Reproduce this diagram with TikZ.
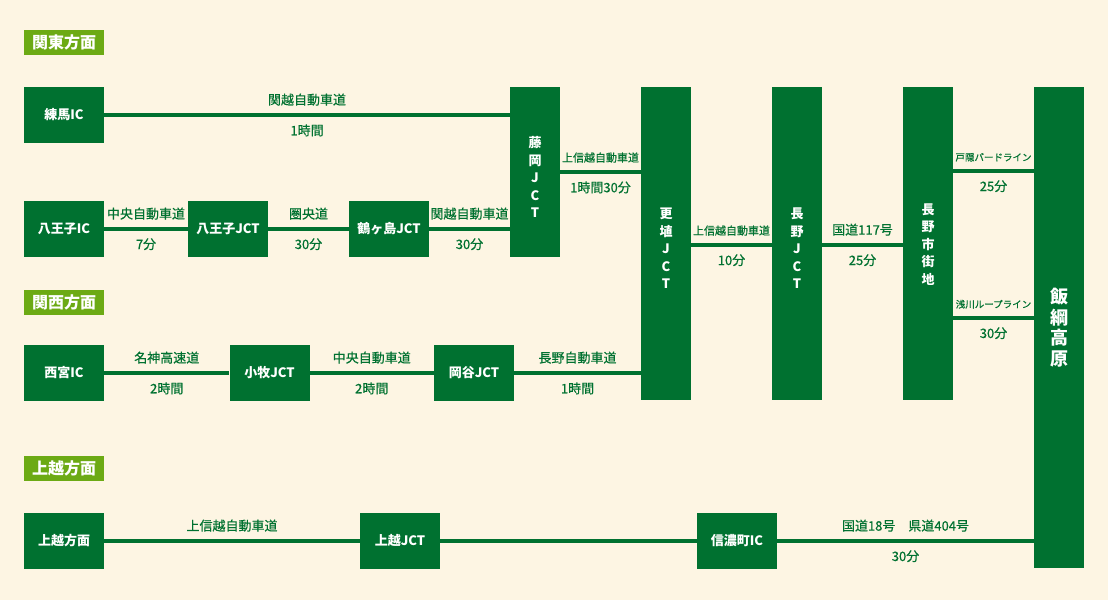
\documentclass[tikz,border=0pt]{standalone}
\usepackage{fontspec}
\setmainfont{Noto Sans CJK JP}
\newfontfamily\lblfont[FakeBold=0.5]{Noto Sans CJK JP}
\usetikzlibrary{positioning}
\definecolor{bgcream}{RGB}{253,245,227}
\definecolor{jctgreen}{RGB}{0,113,48}
\definecolor{headgreen}{RGB}{108,170,20}
\begin{document}
\begin{tikzpicture}[x=1pt,y=-1pt,
  box/.style={fill=jctgreen,text=white,font=\bfseries\fontsize{13}{15}\selectfont,
    minimum width=80pt,minimum height=56pt,inner sep=0pt},
  tallbox/.style={fill=jctgreen,minimum width=50pt,inner sep=0pt},
  talltxt/.style={text=white,font=\bfseries\fontsize{13}{17.5}\selectfont,
    inner sep=0pt,align=center,yshift=-5pt},
  headbox/.style={fill=headgreen,text=white,font=\bfseries\fontsize{16}{18}\selectfont,
    minimum width=80pt,minimum height=25pt,inner sep=0pt},
  roadline/.style={draw=jctgreen,line width=4pt},
  lbl/.style={text=jctgreen,font=\lblfont\fontsize{13}{15}\selectfont},
  smalllbl/.style={text=jctgreen,font=\lblfont\fontsize{11}{12}\selectfont}]
  \fill[bgcream] (0,0) rectangle (1108,600);
  \useasboundingbox (0,0) rectangle (1108,600);
  % headers
  \node[headbox] (hdkanto) at (64,42.5) {関東方面};
  \node[headbox] (hdkansai) at (64,302.5) {関西方面};
  \node[headbox] (hdjoetsu) at (64,468.5) {上越方面};
  % tall junctions
  \node[tallbox,minimum height=170pt,label={[talltxt]center:{藤\\岡\\J\\C\\T}}] (fujioka) at (535,172) {};
  \node[tallbox,minimum height=313pt,label={[talltxt]center:{更\\埴\\J\\C\\T}}] (koshoku) at (666,243.5) {};
  \node[tallbox,minimum height=313pt,label={[talltxt]center:{長\\野\\J\\C\\T}}] (naganojct) at (797,243.5) {};
  \node[tallbox,minimum height=313pt,label={[talltxt,yshift=4pt]center:{長\\野\\市\\街\\地}}] (shigai) at (928,243.5) {};
  \node[tallbox,minimum height=481pt,label={[talltxt,yshift=5pt,font=\bfseries\fontsize{18}{20.5}\selectfont]center:{飯\\綱\\高\\原}}] (iizuna) at (1059,327.5) {};
  % kanto
  \node[box] (nerima) at (64,115) {練馬IC};
  \node[box] (hachiic) at (64,229) {八王子IC};
  \node[box] (hachijct) at (228,229) {八王子JCT};
  \node[box] (tsuru) at (389,229) {鶴ヶ島JCT};
  % kansai
  \node[box] (nishi) at (64,373) {西宮IC};
  \node[box] (komaki) at (269.5,373) {小牧JCT};
  \node[box] (okaya) at (474,373) {岡谷JCT};
  % joetsu
  \node[box] (joetsu) at (64,541) {上越方面};
  \node[box] (joetsujct) at (400,541) {上越JCT};
  \node[box] (shinano) at (737,541) {信濃町IC};
  % roads
  \draw[roadline] (nerima.east) -- node[lbl,above=4pt] {関越自動車道} node[lbl,below=4pt] {1時間} (nerima.east -| fujioka.west);
  \draw[roadline] (hachiic) -- node[lbl,above=4pt] {中央自動車道} node[lbl,below=4pt] {7分} (hachijct);
  \draw[roadline] (hachijct) -- node[lbl,above=4pt] {圏央道} node[lbl,below=4pt] {30分} (tsuru);
  \draw[roadline] (tsuru.east) -- node[lbl,above=4pt] {関越自動車道} node[lbl,below=4pt] {30分} (tsuru.east -| fujioka.west);
  \draw[roadline] (fujioka.east) -- node[smalllbl,above=4pt] {上信越自動車道} node[lbl,below=4pt] {1時間30分} (fujioka.east -| koshoku.west);
  \draw[roadline] ([yshift=-1.5pt]koshoku.east) -- node[smalllbl,above=4pt] {上信越自動車道} node[lbl,below=4pt] {10分} ([yshift=-1.5pt]naganojct.west);
  \draw[roadline] ([yshift=-1.5pt]naganojct.east) -- node[lbl,above=4pt] {国道117号} node[lbl,below=4pt] {25分} ([yshift=-1.5pt]shigai.west);
  \draw[roadline] ([yshift=72.5pt]shigai.east) -- node[smalllbl,above=4pt,font=\lblfont\fontsize{9.5}{11}\selectfont] {戸隠バードライン} node[lbl,below=4pt] {25分} ([yshift=72.5pt]shigai.east -| iizuna.west);
  \draw[roadline] ([yshift=-74.5pt]shigai.east) -- node[smalllbl,above=4pt,font=\lblfont\fontsize{9.5}{11}\selectfont] {浅川ループライン} node[lbl,below=4pt] {30分} ([yshift=-74.5pt]shigai.east -| iizuna.west);
  \draw[roadline] (nishi) -- node[lbl,above=4pt] {名神高速道} node[lbl,below=4pt] {2時間} (komaki);
  \draw[roadline] (komaki) -- node[lbl,above=4pt] {中央自動車道} node[lbl,below=4pt] {2時間} (okaya);
  \draw[roadline] (okaya.east) -- node[lbl,above=4pt] {長野自動車道} node[lbl,below=4pt] {1時間} (okaya.east -| koshoku.west);
  \draw[roadline] (joetsu) -- node[lbl,above=4pt] {上信越自動車道} (joetsujct);
  \draw[roadline] (joetsujct) -- (shinano);
  \draw[roadline] (shinano.east) -- node[lbl,above=4pt] {国道18号\quad 県道404号} node[lbl,below=4pt] {30分} (shinano.east -| iizuna.west);
\end{tikzpicture}
\end{document}
